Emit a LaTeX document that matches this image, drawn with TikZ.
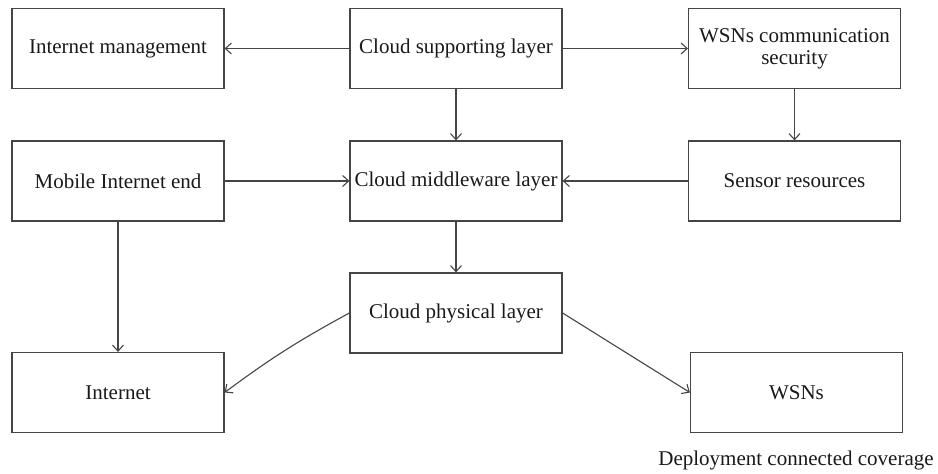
\documentclass[tikz,border=0pt]{standalone}
\usepackage{fontspec}
\setmainfont{Liberation Serif}
\usetikzlibrary{arrows.meta}
\definecolor{edge}{HTML}{454545}
\begin{document}
\begin{tikzpicture}[x=0.5pt,y=-0.5pt,
  box/.style={draw=edge,line width=0.6pt,rectangle,minimum width=106pt,minimum height=40pt,inner sep=1pt,align=center,font=\fontsize{10.5}{11}\selectfont,text=black!90},
  conn/.style={draw=edge,line width=0.55pt,-{Straight Barb[length=3pt,width=5.5pt,line width=0.55pt]}}]
\useasboundingbox (0,0) rectangle (938,474);
\node[box] (im) at (118,48.5) {Internet management};
\node[box] (cs) at (456,48.5) {Cloud supporting layer};
\node[box] (wc) at (794.5,48.5) {WSNs communication\\security};
\node[box] (me) at (118,181) {Mobile Internet end};
\node[box] (cm) at (456,181) {Cloud middleware layer};
\node[box] (sr) at (794.5,181) {Sensor resources};
\node[box] (cp) at (456,313) {Cloud physical layer};
\node[box] (in) at (118,392.5) {Internet};
\node[box] (ws) at (796.5,392.5) {WSNs};
\node[font=\fontsize{10.5}{11}\selectfont,text=black!90,inner sep=0pt] (dc) at (796,460) {Deployment connected coverage};
\draw[conn] (cs) -- (im);
\draw[conn] (cs) -- (wc);
\draw[conn] (cs) -- (cm);
\draw[conn] (wc) -- (sr);
\draw[conn] (me) -- (cm);
\draw[conn] (sr) -- (cm);
\draw[conn] (cm) -- (cp);
\draw[conn] (me) -- (in);
\draw[conn] (cp.west) to[bend right=4] (in.east);
\draw[conn] (cp.east) -- (ws.west);
\end{tikzpicture}
\end{document}
